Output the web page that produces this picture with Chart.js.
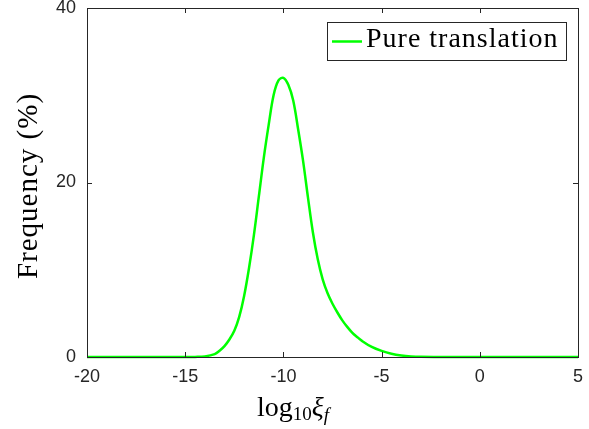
<!DOCTYPE html>
<html>
<head>
<meta charset="utf-8">
<script src="https://cdn.jsdelivr.net/npm/chart.js@4"></script>
<style>
  html, body { margin: 0; padding: 0; background: #fff; }
  #wrap { width: 589px; height: 429px; }
</style>
</head>
<body>
<div id="wrap"><canvas id="c" width="589" height="429"></canvas></div>
<script>
// values
const logXi = [-20, -16, -15, -14.5, -14, -13.5, -13.25, -13, -12.75, -12.5, -12.25, -12,
  -11.75, -11.5, -11.25, -11, -10.75, -10.5, -10.25, -10, -9.75, -9.5, -9.25, -9,
  -8.75, -8.5, -8.25, -8, -7.75, -7.5, -7.25, -7, -6.75, -6.5, -6.25, -6, -5.5, -5,
  -4.5, -4, -3.5, -3, -2, 0, 5];
const freq = [0, 0, 0, 0.01, 0.06, 0.32, 0.72, 1.25, 2.0, 3.0, 4.6, 7.0,
  10.2, 14.0, 18.4, 22.8, 26.6, 30.0, 31.7, 32.0, 31.2, 29.4, 26.1, 22.5,
  18.3, 14.3, 11.2, 8.9, 7.3, 6.1, 5.1, 4.2, 3.45, 2.8, 2.3, 1.85, 1.15, 0.7,
  0.38, 0.18, 0.07, 0.02, 0, 0, 0];
const seriesName = 'Pure translation';
const xTicks = [-20, -15, -10, -5, 0, 5];
const yTicks = [0, 20, 40];

const axisCol = '#262626';
const points = logXi.map((x, i) => ({x: x, y: freq[i]}));

const matlabBox = {
  id: 'matlabBox',
  afterDraw(chart) {
    const {ctx, chartArea: {left, right, top, bottom}, scales: {x, y}} = chart;
    ctx.save();
    ctx.strokeStyle = axisCol;
    ctx.lineWidth = 1;
    ctx.strokeRect(left + 0.5, top + 0.5, right - left, bottom - top);
    ctx.beginPath();
    xTicks.forEach(v => {
      const px = Math.round(x.getPixelForValue(v)) + 0.5;
      ctx.moveTo(px, bottom); ctx.lineTo(px, bottom - 5);
      ctx.moveTo(px, top); ctx.lineTo(px, top + 5);
    });
    yTicks.forEach(v => {
      const py = Math.round(y.getPixelForValue(v)) + 0.5;
      ctx.moveTo(left, py); ctx.lineTo(left + 5, py);
      ctx.moveTo(right, py); ctx.lineTo(right - 5, py);
    });
    ctx.stroke();

    // legend box
    const lx = 327, ly = 22, lw = 239, lh = 38;
    ctx.fillStyle = '#fff';
    ctx.fillRect(lx, ly, lw, lh);
    ctx.strokeStyle = '#262626';
    ctx.strokeRect(lx + 0.5, ly + 0.5, lw, lh);
    ctx.strokeStyle = '#00ff00';
    ctx.lineWidth = 2.5;
    ctx.beginPath();
    ctx.moveTo(332, 41.5); ctx.lineTo(362, 41.5);
    ctx.stroke();
    ctx.fillStyle = '#000';
    ctx.font = '28px "Liberation Serif"';
    ctx.letterSpacing = '1px';
    ctx.textBaseline = 'alphabetic';
    ctx.textAlign = 'left';
    ctx.fillText(seriesName, 366, 47);

    // y title
    ctx.save();
    ctx.font = '29px "Liberation Serif"';
    ctx.translate(37, 186);
    ctx.rotate(-Math.PI / 2);
    ctx.textAlign = 'center';
    ctx.fillText('Frequency (%)', 0, 0);
    ctx.restore();

    // x title: log10 xi_f
    ctx.letterSpacing = '0px';
    ctx.textAlign = 'left';
    let cx = 257;
    const base = 416;
    ctx.font = '28px "Liberation Serif"';
    ctx.fillText('log', cx, base); cx += ctx.measureText('log').width;
    ctx.font = '19px "Liberation Serif"';
    ctx.fillText('10', cx, base + 4); cx += ctx.measureText('10').width;
    ctx.font = 'italic 28px "Liberation Serif"';
    ctx.fillText('\u03BE', cx, base); cx += ctx.measureText('\u03BE').width;
    ctx.font = 'italic 19px "Liberation Serif"';
    ctx.fillText('f', cx, base + 5);
    ctx.restore();
  }
};

new Chart(document.getElementById('c'), {
  type: 'scatter',
  data: {
    datasets: [{
      label: seriesName,
      data: points,
      showLine: true,
      borderColor: '#00ff00',
      borderWidth: 2.5,
      pointRadius: 0,
      tension: 0.35,
      clip: false
    }]
  },
  options: {
    responsive: false,
    animation: false,
    layout: { padding: { top: 8, right: 11, left: 0, bottom: 0 } },
    plugins: { legend: { display: false }, tooltip: { enabled: false } },
    scales: {
      x: {
        type: 'linear', min: -20, max: 5,
        afterBuildTicks: s => { s.ticks = xTicks.map(v => ({value: v})); },
        afterFit: s => { s.height = 72; s.paddingLeft = 0; s.paddingRight = 0; },
        grid: { display: false, drawTicks: false },
        border: { display: false },
        ticks: { color: axisCol, font: { family: 'Liberation Sans', size: 18 }, padding: 9 }
      },
      y: {
        type: 'linear', min: 0, max: 40,
        afterBuildTicks: s => { s.ticks = yTicks.map(v => ({value: v})); },
        afterFit: s => { s.width = 87; s.paddingTop = 0; s.paddingBottom = 0; },
        grid: { display: false, drawTicks: false },
        border: { display: false },
        ticks: { color: axisCol, font: { family: 'Liberation Sans', size: 18 }, padding: 11 }
      }
    }
  },
  plugins: [matlabBox]
});
</script>
</body>
</html>
